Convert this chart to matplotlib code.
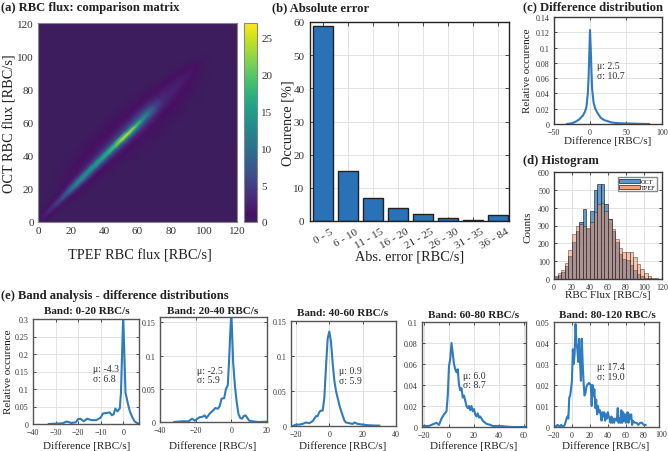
import numpy as np
import matplotlib
matplotlib.use('Agg')
import matplotlib.pyplot as plt
from matplotlib.colors import LinearSegmentedColormap
from matplotlib.patches import Patch
from matplotlib.transforms import ScaledTranslation

plt.rcParams['font.family'] = ['Liberation Serif', 'DejaVu Serif']

W, H = 668, 452
# (a) counts: position along the diagonal (x+y)/2 against offset y-x
matrix_pos = [2,6,10,14,18,22,26,30,34,38,42,46,50,54,58,62,66,70,74,78,82,86,90,94,98,102,106]
matrix_off = [-30,-26,-22,-18,-14,-10,-7,-5,-3,-1,1,3,5,7,10,14,18,22,26,30]
matrix_rows = [
 [0,0,0,0,0,0,0,.2,.5,1.5,1.5,.6,.2,0,0,0,0,0,0,0],
 [0,0,0,0,0,0,.1,.3,1,2.5,2.5,1,.4,.2,0,0,0,0,0,0],
 [0,0,0,0,0,.1,.2,.5,1.5,3.5,3.5,1.6,.6,.3,.1,0,0,0,0,0],
 [0,0,0,0,.1,.2,.3,.6,2,5.5,5,2,.8,.4,.2,.1,0,0,0,0],
 [0,0,0,.1,.1,.2,.5,1,3,8,7.5,3,1.2,.6,.4,.2,.1,0,0,0],
 [0,0,0,.1,.1,.3,.7,1.5,4.5,11,10,4,1.8,1,.6,.3,.2,.1,0,0],
 [0,0,0,.1,.2,.3,.8,2,5.5,13,12,5,2.2,1.3,.8,.5,.3,.1,0,0],
 [0,0,.1,.1,.2,.4,1,2.4,6,12,13,5.5,2.6,1.6,1,.6,.3,.2,.1,0],
 [0,0,.1,.1,.2,.5,1.1,2.6,6,14,14,5.5,2.8,1.8,1.2,.7,.4,.2,.1,0],
 [0,0,.1,.2,.3,.6,1.3,3,6.5,15,14,6,3.2,2,1.2,.7,.4,.2,.1,0],
 [0,.1,.1,.2,.3,.7,1.6,3.5,7,17,15,6,3.4,2.2,1.3,.8,.4,.2,.1,0],
 [0,.1,.2,.3,.4,.8,2,4,8,19,16,6.5,3.6,2.2,1.3,.8,.4,.2,.1,0],
 [.1,.1,.2,.3,.5,1,2.4,5,10,24,19,6,4,2.4,1.3,.8,.4,.2,.1,0],
 [.1,.2,.2,.4,.6,1.2,2.6,5.5,13,25,15,6,4,2.4,1.4,.8,.4,.2,.1,0],
 [.1,.2,.3,.4,.7,1.4,3,6,12,21,12,6,4,2.4,1.3,.7,.4,.2,.1,0],
 [.1,.2,.3,.5,.8,1.4,3,5,9,15,10,6,4,2.4,1.2,.6,.3,.2,.1,0],
 [.1,.2,.3,.5,.8,1.4,2.6,4.5,8,11,9,6,3.6,2.2,1.1,.5,.3,.1,0,0],
 [.1,.2,.3,.5,.8,1.2,2.2,3.5,5,6,5.5,4,2.8,1.8,.9,.4,.2,.1,0,0],
 [.1,.2,.3,.5,.8,1.1,1.8,2.4,3,3.3,3,2.5,2,1.4,.7,.3,.1,0,0,0],
 [.1,.2,.3,.4,.7,1,1.5,2,2.4,2.6,2.4,2,1.5,1,.5,.2,.1,0,0,0],
 [.1,.2,.2,.3,.6,.9,1.3,1.8,2.2,2.4,2.2,1.8,1.3,.8,.4,.1,0,0,0,0],
 [0,.1,.2,.3,.5,.7,1.1,1.5,2,2.2,2,1.5,1,.6,.3,.1,0,0,0,0],
 [0,.1,.1,.2,.3,.5,.8,1.2,1.5,1.7,1.5,1.1,.7,.4,.2,0,0,0,0,0],
 [0,0,.1,.1,.2,.3,.5,.7,.9,1,.9,.6,.4,.2,.1,0,0,0,0,0],
 [0,0,0,.1,.1,.2,.2,.3,.4,.4,.3,.2,.1,.1,0,0,0,0,0,0],
 [0,0,0,0,0,.1,.1,.1,.1,.1,.1,.1,0,0,0,0,0,0,0,0],
 [0,0,0,0,0,0,0,0,0,0,0,0,0,0,0,0,0,0,0,0],
]

# (b)
err_labels = ['0 - 5', '6 - 10', '11 - 15', '16 - 20', '21 - 25', '26 - 30', '31 - 35', '36 - 84']
err_values = [58.7, 15.0, 6.8, 4.0, 2.1, 0.9, 0.3, 1.7]

# (c)
diff_x = [-32,-25,-20,-15,-10,-7,-5,-3,-2,-1,0,1,2,3,5,7,10,15,20,30,40,60,82]
diff_y = [0,.001,.003,.006,.011,.016,.022,.04,.06,.09,.123,.10,.07,.045,.028,.021,.015,.008,.005,.002,.001,.0005,0]

# (d)
hist_x = [2,6,10,14,18,22,26,30,34,38,42,46,50,54,58,62,66,70,74,78,82,86,90,94,98,102,106,110,114,118]
hist_oct = [12,25,40,75,130,210,270,320,390,280,380,500,535,530,420,335,270,210,140,110,105,80,50,30,15,8,3,1,0,0]
hist_tpef = [15,35,50,90,160,250,295,310,295,285,320,375,420,425,380,335,280,225,175,150,150,150,125,85,55,35,18,8,3,0]

# (e)
b1_x = [-33,-30,-27,-25,-23,-21,-20,-19,-17.5,-16,-14,-12,-10,-9,-7,-6,-5,-4.2,-3.5,-2.5,-1.5,-1,-.5,0,.5,1,2,3,4,5,6,7]
b1_y = [0,.001,.002,.007,.003,.005,.014,.015,.008,.015,.011,.011,.018,.03,.032,.033,.025,.028,.044,.036,.045,.09,.2,.31,.2,.09,.06,.035,.02,.008,.003,.001]
b2_x = [-32,-28,-24,-22,-20.5,-18,-16,-15,-14,-12,-10,-9,-7.5,-6.5,-5.5,-4,-3,-2,-1.3,-.5,0,.5,1,2,3,4,5,6,7,8,9,10,12,15,20]
b2_y = [0,.001,.001,.005,.002,.007,.008,.01,.006,.013,.018,.021,.02,.024,.035,.036,.05,.055,.09,.14,.165,.13,.09,.055,.03,.012,.006,.005,.009,.01,.006,.002,.001,0,.0005]
b3_x = [-22,-20,-18,-16,-14,-12,-10,-8,-7,-6,-5,-4,-3,-2,-1,0,1,2,3,4,5,6,7,8,9,10,12,14,15,17,20,24,30]
b3_y = [0,.002,.002,.003,.005,.004,.007,.014,.014,.02,.022,.022,.04,.085,.125,.135,.12,.09,.065,.05,.04,.03,.022,.015,.008,.005,.004,.003,.005,.003,.002,.001,.0005]
b4_x = [-21,-16,-12,-10,-8,-6,-4,-2,-1,0,1,2,3,4,5,6,7,8,9,10,11,12,13,14,15,16,17,18,19,20,21,22,23,24,25,26,27,28,30,33,35,40,50,61]
b4_y = [.001,.001,.003,.004,.002,.008,.012,.015,.03,.058,.065,.08,.07,.06,.055,.052,.055,.04,.035,.037,.028,.03,.025,.02,.018,.02,.016,.02,.015,.017,.012,.01,.013,.009,.01,.008,.006,.005,.003,.002,.001,.001,0,0]
b5_x = [-19,-16,-14,-12,-10,-8,-6,-5,-4,-3,-2,-1,0,1,2,3,4,5,6,7,8,9,10,11,12,13,14,15,16,17,19,21,22,23,24,25,26,27,28,29,30,31,32,33,34,35,36,37,38,39,40,41,42,43,44,45,46,47,48,50,51,52,53,54,55,56,57,58,59,60,61,62,63,64,65,66,67,68,70,72,74,76,78,80,82]
b5_y = [0,.001,0,.001,0,.001,.004,.005,.004,.014,.015,.018,.022,.037,.03,.035,.049,.04,.037,.031,.042,.031,.022,.042,.03,.021,.015,.016,.019,.02,.021,.02,.01,.02,.015,.018,.009,.013,.006,.01,.007,.008,.006,.003,.007,.005,.007,.003,.006,.004,.007,.005,.004,.002,.005,.002,.004,.002,.004,.003,.009,.002,.004,.002,.008,.002,.007,.003,.006,.002,.004,.007,.002,.006,.004,.006,.001,.003,.002,.002,.001,.002,.002,.001,.001]

LINE = '#2f7bbf'
INK = '#333333'
GRID = '#e3e3e3'

fig = plt.figure(figsize=(W/100, H/100), dpi=100)

def box(l, r, t, b):
    return fig.add_axes([l/W, 1-b/H, (r-l)/W, (b-t)/H])

def ftext(x, y, s, **kw):
    kw.setdefault('ha', 'center'); kw.setdefault('va', 'center'); kw.setdefault('color', '#222222')
    return fig.text(x/W, 1-y/H, s, **kw)

def style(ax, ts, lw=1.0, ec='#3a3a3a', tl=2.5, pad=3):
    ax.grid(True, color=GRID, lw=0.7)
    ax.set_axisbelow(True)
    ax.tick_params(direction='in', top=True, right=True, length=tl, width=0.6,
                   labelsize=ts, pad=pad, color='#333333', labelcolor=INK)
    for s in ax.spines.values():
        s.set_linewidth(lw); s.set_edgecolor(ec)

# (a)
base = plt.get_cmap('viridis')(np.linspace(0, 1, 256))
base[:10] = np.linspace([.24, .115, .37, 1], base[10], 10)
cmap = LinearSegmentedColormap.from_list('vir', base)
ax = box(38, 237, 24, 223)
ax.set_facecolor(cmap(0))
S, D = np.meshgrid(matrix_pos, matrix_off, indexing='ij')
im = ax.pcolormesh(S - D/2, S + D/2, np.array(matrix_rows), cmap=cmap, vmin=0, vmax=27, shading='gouraud')
ax.set_xlim(0, 120); ax.set_ylim(0, 120)
ax.set_xticks(range(0, 121, 20)); ax.set_yticks(range(0, 121, 20))
ax.tick_params(length=0, labelsize=8, pad=3, labelcolor=INK)
for s in ax.spines.values():
    s.set_edgecolor('#888888'); s.set_linewidth(.8)
ftext(140, 256, 'TPEF RBC flux [RBC/s]', fontsize=10.3)
ftext(10, 124, 'OCT RBC flux [RBC/s]', fontsize=10.3, rotation=90)
cax = box(244, 257, 24, 223)
cb = fig.colorbar(im, cax=cax)
cb.set_ticks(range(0, 26, 5))
cb.ax.tick_params(length=0, labelsize=8, pad=3, labelcolor=INK)
cb.outline.set_edgecolor('#888888')
ftext(1, 8, '(a) RBC flux: comparison matrix', fontsize=9.1, fontweight='bold', ha='left')

# (b)
ax = box(310, 509, 23, 222)
xs = np.arange(1, len(err_values)+1)
ax.bar(xs, err_values, width=0.8, color='#2a72b8', edgecolor='#222222', linewidth=1.0)
ax.set_xlim(.5, 8.46); ax.set_ylim(0, 60)
ax.set_xticks(xs); ax.set_xticklabels(err_labels, rotation=30, ha='right', rotation_mode='anchor')
style(ax, 8, ec='#222222', tl=3, pad=4)
shift = ScaledTranslation(8/100, 0, fig.dpi_scale_trans)
for lab in ax.get_xticklabels():
    lab.set_transform(lab.get_transform() + shift)
ftext(410, 257, 'Abs. error [RBC/s]', fontsize=10.3)
ftext(288, 123, 'Occurence [%]', fontsize=10.3, rotation=90)
ftext(272, 8, '(b) Absolute error', fontsize=9.1, fontweight='bold', ha='left')

# (c)
ax = box(554, 662, 18, 125)
ax.plot(diff_x, diff_y, color=LINE, lw=1.5)
ax.set_xlim(-50, 100); ax.set_ylim(0, .14)
ax.set_xticks([-50, 0, 50, 100]); ax.set_yticks(np.arange(0, .141, .02))
ax.set_yticklabels(['0', '0.02', '0.04', '0.06', '0.08', '0.1', '0.12', '0.14'])
style(ax, 5.8)
ax.text(9.7, .07, 'μ: 2.5\nσ: 10.7', fontsize=7, color=INK, va='center', linespacing=1.05)
ftext(608, 141, 'Difference [RBC/s]', fontsize=8)
ftext(528, 71, 'Relative occurence', fontsize=8, rotation=90)
ftext(523, 7, '(c) Difference distribution', fontsize=9.1, fontweight='bold', ha='left')

# (d)
ax = box(554, 662, 173, 280)
ax.bar(hist_x, hist_oct, width=4, color='#2f7bbf', alpha=.75, edgecolor='#222222', linewidth=.6)
ax.bar(hist_x, hist_tpef, width=4, color='#ef8a5a', alpha=.5, edgecolor='#222222', linewidth=.6)
ax.set_xlim(0, 120); ax.set_ylim(0, 600)
ax.set_xticks(range(0, 121, 20)); ax.set_yticks(range(0, 601, 100))
style(ax, 5.8)
ax.legend(handles=[Patch(facecolor='#5b95c8', edgecolor='#222222', lw=.5, label='OCT'),
                   Patch(facecolor='#f0a07c', edgecolor='#222222', lw=.5, label='TPEF')],
          loc='upper right', fontsize=4.5, frameon=True, fancybox=False, edgecolor='#888888',
          framealpha=1, borderpad=.2, labelspacing=.1, handlelength=3.4, handletextpad=.1,
          borderaxespad=.5, bbox_to_anchor=(.98, .98))
ftext(608, 296, 'RBC Flux [RBC/s]', fontsize=8)
ftext(528, 227, 'Counts', fontsize=8, rotation=90)
ftext(523, 161, '(d) Histogram', fontsize=9.1, fontweight='bold', ha='left')

# (e)
ftext(1, 296, '(e) Band analysis - difference distributions', fontsize=9.1, fontweight='bold', ha='left')
panels = [
 dict(pos=(33,139,320,425), x=b1_x, y=b1_y, xlim=(-40,7), ylim=(0,.3), xt=[-40,-30,-20,-10,0],
      yt=[0,.05,.1,.15,.2,.25,.3], ytl=['0','0.05','0.1','0.15','0.2','0.25','0.3'],
      title='Band: 0-20 RBC/s', tc=(87,312), xl=87, txt=(-13.5,.144,'μ: -4.3\nσ: 6.8')),
 dict(pos=(160,267,318,423), x=b2_x, y=b2_y, xlim=(-40,20), ylim=(0,.158), xt=[-40,-20,0,20],
      yt=[0,.05,.1,.15], ytl=['0','0.05','0.1','0.15'],
      title='Band: 20-40 RBC/s', tc=(213,311), xl=213, txt=(-19.2,.071,'μ: -2.5\nσ: 5.9')),
 dict(pos=(291,396,322,427), x=b3_x, y=b3_y, xlim=(-23,40), ylim=(0,.15), xt=[-20,0,20,40],
      yt=[0,.05,.1,.15], ytl=['0','0.05','0.1','0.15'],
      title='Band: 40-60 RBC/s', tc=(343,314), xl=343, txt=(5.8,.072,'μ: 0.9\nσ: 5.9')),
 dict(pos=(422,526,323,428), x=b4_x, y=b4_y, xlim=(-21.6,61.6), ylim=(0,.1), xt=[-20,0,20,40,60],
      yt=[0,.02,.04,.06,.08,.1], ytl=['0','0.02','0.04','0.06','0.08','0.1'],
      title='Band: 60-80 RBC/s', tc=(474,315), xl=474, txt=(11.2,.0448,'μ: 6.0\nσ: 8.7')),
 dict(pos=(554,659,323,428), x=b5_x, y=b5_y, xlim=(-20,97), ylim=(0,.05), xt=[-20,0,20,40,60,80],
      yt=[0,.01,.02,.03,.04,.05], ytl=['0','0.01','0.02','0.03','0.04','0.05'],
      title='Band: 80-120 RBC/s', tc=(607,315), xl=606, txt=(28,.0264,'μ: 17.4\nσ: 19.0')),
]
for p in panels:
    ax = box(*p['pos'])
    ax.plot(p['x'], p['y'], color=LINE, lw=1.5)
    ax.set_xlim(*p['xlim']); ax.set_ylim(*p['ylim'])
    ax.set_xticks(p['xt'])
    ax.set_yticks(p['yt']); ax.set_yticklabels(p['ytl'])
    style(ax, 5.8, lw=1.0, ec='#555555', pad=3)
    tx, ty, ts = p['txt']
    ax.text(tx, ty, ts, fontsize=7, color=INK, va='center', linespacing=1.05)
    ftext(p['tc'][0], p['tc'][1], p['title'], fontsize=8, fontweight='bold')
    ftext(p['xl'], 446, 'Difference [RBC/s]', fontsize=8)
ftext(9, 372, 'Relative occurence', fontsize=8, rotation=90)
# panel 5 carries a 100 label past its right edge, as in the reference
ftext(661, 435, '100', fontsize=5.8, color=INK)

fig.savefig('out.png', dpi=100)
